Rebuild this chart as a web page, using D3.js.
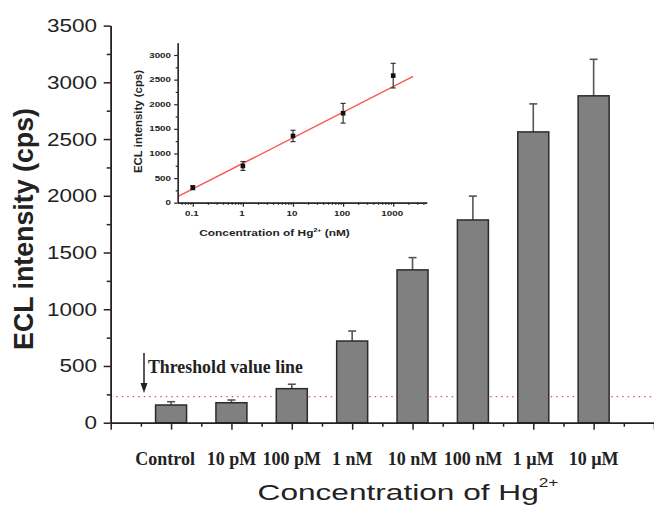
<!DOCTYPE html>
<html>
<head>
<meta charset="utf-8">
<script src="https://cdn.jsdelivr.net/npm/d3@7"></script>
<style>
  body { margin: 0; background: #fff; }
  svg { display: block; }
</style>
</head>
<body>
<svg id="chart" width="654" height="505"></svg>
<script>
// main bar chart data
const categories = ['Control', '10 pM', '100 pM', '1 nM', '10 nM', '100 nM', '1 µM', '10 µM'];
const ecl = [156, 176, 300, 720, 1347, 1787, 2563, 2881];
const eclErr = [29, 24, 39, 88, 108, 210, 247, 322];
const threshold = 230;
const yTicks = [0, 500, 1000, 1500, 2000, 2500, 3000, 3500];

// inset calibration data
const insetConc = [0.1, 1, 10, 100, 1000];
const insetEcl = [305, 746, 1356, 1817, 2581];
const insetErr = [40, 90, 115, 200, 250];
const fitX = [0.05, 2500];
const fitY = [122, 2568];
const insetYTicks = [0, 500, 1000, 1500, 2000, 2500, 3000];
const insetXTicks = [0.1, 1, 10, 100, 1000];

const svg = d3.select('#chart');
const ink = '#222';

// squeeze / stretch a text group horizontally so it spans targetW
function fitText(g, x, y, targetW, rot) {
	let w = g.select('text').node().getBBox().width;
	let sx = targetW / w;
	g.attr('transform', 'translate(' + x + ',' + y + ')' + (rot ? ' rotate(' + rot + ')' : '') + ' scale(' + sx + ',1)');
}

// ---------- main chart ----------
let x = d3.scaleLinear().domain([0, 9]).range([110.7, 654]);
let y = d3.scaleLinear().domain([0, 3500]).range([422.7, 25.6]);
let barW = 31;

let main = svg.append('g');

// threshold line
main.append('line')
	.attr('x1', x(0)).attr('x2', x(9))
	.attr('y1', y(threshold)).attr('y2', y(threshold))
	.attr('stroke', '#ff4a4a').attr('stroke-width', 1.3)
	.attr('stroke-dasharray', '1.5,4');

// error bars (upper only)
let err = main.selectAll('g.err').data(ecl).enter().append('g');
err.append('line')
	.attr('x1', (d, i) => x(i + 1)).attr('x2', (d, i) => x(i + 1))
	.attr('y1', d => y(d)).attr('y2', (d, i) => y(d + eclErr[i]))
	.attr('stroke', '#555').attr('stroke-width', 1.6);
err.append('line')
	.attr('x1', (d, i) => x(i + 1) - 4).attr('x2', (d, i) => x(i + 1) + 4)
	.attr('y1', (d, i) => y(d + eclErr[i])).attr('y2', (d, i) => y(d + eclErr[i]))
	.attr('stroke', '#555').attr('stroke-width', 1.6);

// bars
main.selectAll('rect.bar').data(ecl).enter().append('rect')
	.attr('x', (d, i) => x(i + 1) - barW / 2)
	.attr('width', barW)
	.attr('y', d => y(d))
	.attr('height', d => y(0) - y(d))
	.attr('fill', '#808080')
	.attr('stroke', '#2b2b2b')
	.attr('stroke-width', 1.5);

// y axis
main.append('g').attr('transform', 'translate(' + x(0) + ',0)')
	.call(d3.axisLeft(y).tickValues(yTicks).tickSize(7).tickSizeOuter(0).tickFormat(''));
main.append('g').attr('transform', 'translate(' + x(0) + ',0)')
	.call(d3.axisLeft(y).tickValues(d3.range(250, 3500, 500)).tickSize(4).tickSizeOuter(0).tickFormat(''));
// x axis
main.append('g').attr('transform', 'translate(0,' + y(0) + ')')
	.call(d3.axisBottom(x).tickValues(d3.range(0, 10)).tickSize(7).tickSizeOuter(0).tickFormat(''));
main.append('g').attr('transform', 'translate(0,' + y(0) + ')')
	.call(d3.axisBottom(x).tickValues(d3.range(0.5, 9, 1)).tickSize(4).tickSizeOuter(0).tickFormat(''));
main.selectAll('.domain, .tick line').attr('stroke', ink).attr('stroke-width', 1.5);

// y tick labels
yTicks.forEach(function(v) {
	let g = main.append('g');
	g.append('text').text(v)
		.attr('text-anchor', 'end').attr('dy', '0.36em')
		.style('font-family', '"Liberation Sans", Arial, sans-serif')
		.style('font-size', '18px').attr('fill', ink);
	g.attr('transform', 'translate(97,' + y(v) + ') scale(1.25,1)');
});

// category labels
main.selectAll('text.cat').data(categories).enter().append('text')
	.attr('x', (d, i) => x(i + 1) - (i === 0 ? 6 : 0))
	.attr('y', 465)
	.attr('text-anchor', 'middle')
	.style('font-family', '"Liberation Serif", "Times New Roman", serif')
	.style('font-weight', 'bold')
	.style('font-size', '18px')
	.attr('fill', ink)
	.text(d => d);

// y title
let yt = main.append('g');
yt.append('text').text('ECL intensity (cps)')
	.attr('text-anchor', 'middle')
	.style('font-family', '"Liberation Sans", Arial, sans-serif')
	.style('font-weight', 'bold').style('font-size', '27px').attr('fill', ink);
fitText(yt, 33, 229, 242, -90);

// x title
let xt = main.append('g');
let xtt = xt.append('text').attr('text-anchor', 'middle')
	.style('font-family', '"Liberation Sans", Arial, sans-serif')
	.style('font-size', '22px').attr('fill', ink);
xtt.append('tspan').text('Concentration of Hg');
xtt.append('tspan').text('2+').attr('dy', -13).style('font-size', '12px');
fitText(xt, 408, 500, 301);

// threshold annotation
let th = main.append('g');
th.append('text').text('Threshold value line')
	.style('font-family', '"Liberation Serif", "Times New Roman", serif')
	.style('font-weight', 'bold').style('font-size', '18.5px').attr('fill', ink);
fitText(th, 148, 373, 155);
main.append('line')
	.attr('x1', 144).attr('x2', 144).attr('y1', 353).attr('y2', 384)
	.attr('stroke', ink).attr('stroke-width', 1.5);
main.append('path')
	.attr('d', 'M140.5,383 L147.5,383 L144,393 Z')
	.attr('fill', ink);

// ---------- inset ----------
let ix = d3.scaleLog().domain([0.05, 4660]).range([177.7, 426.7]);
let iy = d3.scaleLinear().domain([0, 3250]).range([202.7, 42.7]);
let inset = svg.append('g');

// fit line
inset.append('line')
	.attr('x1', ix(fitX[0])).attr('y1', iy(fitY[0]))
	.attr('x2', ix(fitX[1])).attr('y2', iy(fitY[1]))
	.attr('stroke', '#ff5555').attr('stroke-width', 1.4);

// axes
inset.append('g').attr('transform', 'translate(' + ix.range()[0] + ',0)')
	.call(d3.axisLeft(iy).tickValues(insetYTicks).tickSize(3.5).tickSizeOuter(0).tickFormat(''));
inset.append('g').attr('transform', 'translate(' + ix.range()[0] + ',0)')
	.call(d3.axisLeft(iy).tickValues(d3.range(250, 3250, 500)).tickSize(2).tickSizeOuter(0).tickFormat(''));
let minorX = [];
[0.01, 0.1, 1, 10, 100, 1000].forEach(function(dec) {
	for (let k = 2; k <= 9; k++) {
		let v = dec * k;
		if (v > ix.domain()[0] && v < ix.domain()[1]) minorX.push(v);
	}
});
inset.append('g').attr('transform', 'translate(0,' + iy(0) + ')')
	.call(d3.axisBottom(ix).tickValues(insetXTicks).tickSize(4).tickSizeOuter(0).tickFormat(''));
inset.append('g').attr('transform', 'translate(0,' + iy(0) + ')')
	.call(d3.axisBottom(ix).tickValues(minorX).tickSize(2).tickSizeOuter(0).tickFormat(''));
inset.selectAll('.domain, .tick line').attr('stroke', ink).attr('stroke-width', 1.2);

// inset tick labels
insetYTicks.forEach(function(v) {
	let g = inset.append('g');
	g.append('text').text(v).attr('text-anchor', 'end').attr('dy', '0.36em')
		.style('font-family', '"Liberation Sans", Arial, sans-serif')
		.style('font-weight', 'bold').style('font-size', '7px').attr('fill', ink);
	g.attr('transform', 'translate(171,' + iy(v) + ') scale(1.4,1)');
});
insetXTicks.forEach(function(v) {
	let g = inset.append('g');
	g.append('text').text(v).attr('text-anchor', 'middle')
		.style('font-family', '"Liberation Sans", Arial, sans-serif')
		.style('font-weight', 'bold').style('font-size', '7px').attr('fill', ink);
	g.attr('transform', 'translate(' + (ix(v) - 1) + ',216) scale(1.4,1)');
});

// inset error bars and points
insetEcl.forEach(function(v, i) {
	let cx = ix(insetConc[i]);
	let lo = iy(v - insetErr[i]), hi = iy(v + insetErr[i]);
	inset.append('line').attr('x1', cx).attr('x2', cx).attr('y1', lo).attr('y2', hi)
		.attr('stroke', '#333').attr('stroke-width', 1.2);
	[lo, hi].forEach(function(yy) {
		inset.append('line').attr('x1', cx - 2.5).attr('x2', cx + 2.5).attr('y1', yy).attr('y2', yy)
			.attr('stroke', '#333').attr('stroke-width', 1.2);
	});
	inset.append('rect').attr('x', cx - 2.3).attr('y', iy(v) - 2.3)
		.attr('width', 4.6).attr('height', 4.6).attr('fill', '#111');
});

// inset titles
let iyt = inset.append('g');
iyt.append('text').text('ECL intensity (cps)').attr('text-anchor', 'middle')
	.style('font-family', '"Liberation Sans", Arial, sans-serif')
	.style('font-weight', 'bold').style('font-size', '10px').attr('fill', ink);
fitText(iyt, 141.5, 121.5, 103, -90);

let ixt = inset.append('g');
let ixtt = ixt.append('text').attr('text-anchor', 'middle')
	.style('font-family', '"Liberation Sans", Arial, sans-serif')
	.style('font-weight', 'bold').style('font-size', '8.5px').attr('fill', ink);
ixtt.append('tspan').text('Concentration of Hg');
ixtt.append('tspan').text('2+').attr('dy', -4).style('font-size', '5px');
ixtt.append('tspan').text(' (nM)').attr('dy', 4);
fitText(ixt, 274.5, 236, 151);
</script>
</body>
</html>
